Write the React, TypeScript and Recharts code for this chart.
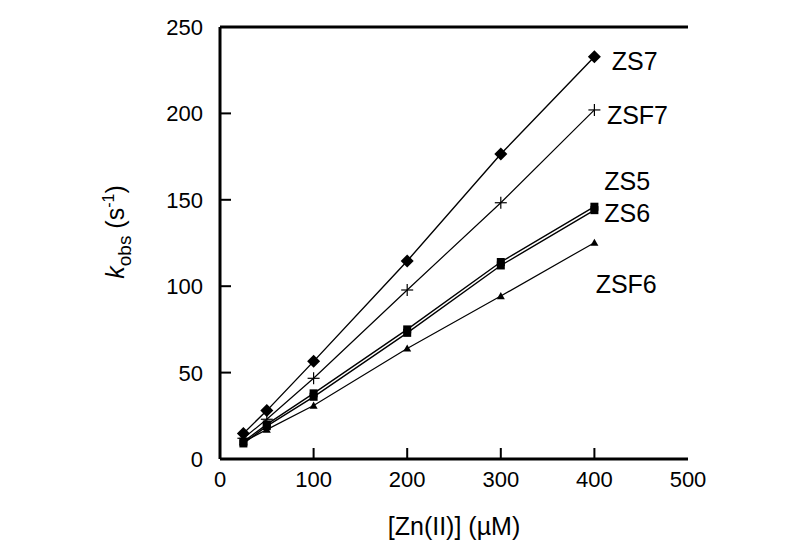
import { LineChart, Line, XAxis, YAxis, ReferenceLine, ReferenceDot } from 'recharts';

// [Zn(II)] in µM
const concentrations = [25, 50, 100, 200, 300, 400];

// kobs (s^-1) per peptide
const zs7 = [14.8, 28, 56.5, 114.6, 176.5, 232.8];
const zsf7 = [12, 23, 46.7, 97.8, 148.3, 202];
const zs5 = [10, 20, 38, 75, 114, 146];
const zs6 = [9, 19, 36, 73, 112, 144];
const zsf6 = [10, 17, 31, 64, 94.3, 125.2];

const xTicks = [0, 100, 200, 300, 400, 500];
const yTicks = [0, 50, 100, 150, 200, 250];

// where the series names sit, in data units
const seriesLabels = [
    { name: 'ZS7', x: 443, y: 230 },
    { name: 'ZSF7', x: 446, y: 199 },
    { name: 'ZS5', x: 435, y: 161 },
    { name: 'ZS6', x: 435, y: 142 },
    { name: 'ZSF6', x: 434, y: 101 },
];

const data = concentrations.map((c, i) => ({
    zn: c,
    zs7: zs7[i],
    zsf7: zsf7[i],
    zs5: zs5[i],
    zs6: zs6[i],
    zsf6: zsf6[i],
}));

const FONT = '"Liberation Sans", Arial, sans-serif';
const TICK_LEN = 11;

function Diamond(props: any) {
    const { cx, cy } = props;
    const s = 6.5;
    return <polygon points={`${cx},${cy - s} ${cx + s},${cy} ${cx},${cy + s} ${cx - s},${cy}`} fill="#000" />;
}

function Plus(props: any) {
    const { cx, cy } = props;
    const s = 6;
    return (
        <g stroke="#000" strokeWidth={1.2}>
            <line x1={cx - s} y1={cy} x2={cx + s} y2={cy} />
            <line x1={cx} y1={cy - s} x2={cx} y2={cy + s} />
        </g>
    );
}

function Square(props: any) {
    const { cx, cy } = props;
    const s = 4;
    return <rect x={cx - s} y={cy - s} width={2 * s} height={2 * s} fill="#000" />;
}

function Triangle(props: any) {
    const { cx, cy } = props;
    const s = 4;
    return <polygon points={`${cx},${cy - s} ${cx + s},${cy + s * 0.8} ${cx - s},${cy + s * 0.8}`} fill="#000" />;
}

// label + inward tick mark; x/y arrive at the axis line
function BottomTick(props: any) {
    const { x, y, payload } = props;
    const v = Number(payload.value);
    return (
        <g>
            {v < 500 && <rect x={x - 1} y={y - TICK_LEN} width={2} height={TICK_LEN} fill="#000" />}
            <text x={x} y={y + 28} textAnchor="middle" fontFamily={FONT} fontSize={22} fill="#000">
                {payload.value}
            </text>
        </g>
    );
}

function LeftTick(props: any) {
    const { x, y, payload } = props;
    return (
        <g>
            <rect x={x} y={y - 1} width={TICK_LEN} height={2} fill="#000" />
            <text x={x - 17} y={y + 8} textAnchor="end" fontFamily={FONT} fontSize={22} fill="#000">
                {payload.value}
            </text>
        </g>
    );
}

function YTitle() {
    return (
        <text x={124} y={232} transform="rotate(-90, 124, 232)" textAnchor="middle" fontFamily={FONT} fontSize={25} fill="#000">
            <tspan fontStyle="italic">k</tspan>
            <tspan fontSize={19} dy={7}>obs</tspan>
            <tspan dy={-7}> (s</tspan>
            <tspan fontSize={16} dy={-10}>-1</tspan>
            <tspan dy={10}>)</tspan>
        </text>
    );
}

export default function App() {
    return (
        <div style={{ position: 'absolute', left: 0, top: 0, width: 800, height: 550, background: '#fff' }}>
            <LineChart width={800} height={550} data={data} margin={{ top: 27, right: 112, bottom: 11, left: 160 }}>
                <XAxis
                    dataKey="zn"
                    type="number"
                    domain={[0, 500]}
                    ticks={xTicks}
                    height={80}
                    axisLine={{ stroke: '#000', strokeWidth: 3 }}
                    tickLine={false}
                    tickSize={0}
                    tickMargin={0}
                    tick={<BottomTick />}
                    label={{ value: '[Zn(II)] (\u00b5M)', position: 'insideBottom', offset: 4, fill: '#000', fontSize: 25, fontFamily: FONT }}
                />
                <YAxis
                    type="number"
                    domain={[0, 250]}
                    ticks={yTicks}
                    width={60}
                    axisLine={{ stroke: '#000', strokeWidth: 3 }}
                    tickLine={false}
                    tickSize={0}
                    tickMargin={0}
                    tick={<LeftTick />}
                    label={{ content: () => <YTitle /> }}
                />
                <ReferenceLine y={250} stroke="#000" strokeWidth={3} />
                <Line dataKey="zs7" stroke="#000" strokeWidth={1.4} dot={<Diamond />} isAnimationActive={false} />
                <Line dataKey="zsf7" stroke="#000" strokeWidth={1.2} dot={<Plus />} isAnimationActive={false} />
                <Line dataKey="zs5" stroke="#000" strokeWidth={1.4} dot={<Square />} isAnimationActive={false} />
                <Line dataKey="zs6" stroke="#000" strokeWidth={1.4} dot={<Square />} isAnimationActive={false} />
                <Line dataKey="zsf6" stroke="#000" strokeWidth={1.2} dot={<Triangle />} isAnimationActive={false} />
                {seriesLabels.map((l) => (
                    <ReferenceDot
                        key={l.name}
                        x={l.x}
                        y={l.y}
                        r={0}
                        fill="none"
                        stroke="none"
                        label={{ value: l.name, position: 'center', fill: '#000', fontSize: 25, fontFamily: FONT }}
                    />
                ))}
            </LineChart>
        </div>
    );
}
